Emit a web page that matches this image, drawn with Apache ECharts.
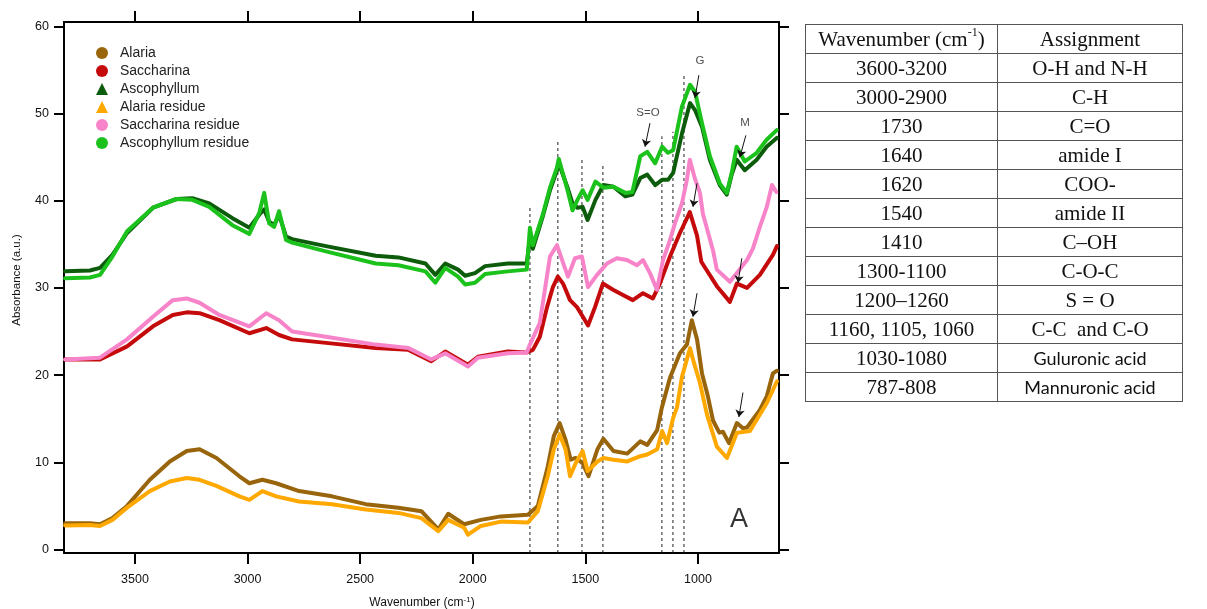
<!DOCTYPE html>
<html><head><meta charset="utf-8">
<script src="https://cdn.jsdelivr.net/npm/echarts@6/dist/echarts.min.js"></script>
<style>
html,body{margin:0;padding:0;background:#fff;}
#chart{position:absolute;left:0;top:0;width:1207px;height:609px;}
#tbl{position:absolute;left:805px;top:24px;border-collapse:collapse;table-layout:fixed;width:377px;
  font-family:'Liberation Serif','Times New Roman',serif;font-size:21px;color:#111;}
#tbl td{border:1px solid #555;height:28px;padding:0;text-align:center;vertical-align:middle;line-height:28px;white-space:nowrap;}
#tbl td.sans{font-family:Lato,'Open Sans',sans-serif;font-size:18px;}
#tbl sup{font-size:12px;line-height:0;position:relative;top:-2px;}
</style></head><body>
<div id="chart"></div>
<table id="tbl"><colgroup><col style="width:192px"><col style="width:185px"></colgroup><tbody id="tb"></tbody></table>
<script>
// ---------- data (wavenumber cm-1, absorbance a.u.) ----------
const xTicks = [3500, 3000, 2500, 2000, 1500, 1000];
const yTicks = [0, 10, 20, 30, 40, 50, 60];

const alaria = [[3810,3.0],[3700,3.0],[3655,2.9],[3600,3.6],[3535,5.0],[3434,8.0],[3345,10.1],[3270,11.3],[3213,11.5],[3138,10.5],[3036,8.4],[2992,7.6],[2934,8.0],[2873,7.6],[2771,6.7],[2625,6.1],[2475,5.2],[2330,4.8],[2228,4.4],[2153,2.3],[2109,4.1],[2038,2.9],[1964,3.4],[1875,3.8],[1755,4.0],[1711,5.0],[1667,9.5],[1640,13.0],[1614,14.5],[1588,12.6],[1565,10.3],[1543,10.5],[1512,9.9],[1486,8.4],[1446,11.5],[1420,12.7],[1375,11.3],[1314,11.0],[1256,12.4],[1225,12.0],[1181,13.7],[1160,16.3],[1124,19.7],[1080,22.5],[1049,23.5],[1027,26.3],[1004,24.1],[982,20.2],[956,17.6],[933,14.8],[905,13.4],[889,13.5],[862,12.2],[827,14.5],[800,13.9],[782,14.0],[725,16.0],[694,17.6],[667,20.2],[649,20.5]];
const saccharina = [[3810,21.8],[3655,21.8],[3535,23.3],[3420,25.6],[3332,26.9],[3270,27.2],[3213,27.1],[3125,26.3],[2992,24.8],[2917,25.4],[2860,24.6],[2802,24.1],[2652,23.7],[2431,23.1],[2285,22.9],[2184,21.6],[2122,22.7],[2021,21.2],[1977,22.1],[1844,22.7],[1760,22.6],[1733,22.9],[1702,24.4],[1670,27.8],[1644,30.1],[1622,31.3],[1599,30.5],[1568,28.6],[1537,27.8],[1511,26.7],[1488,25.7],[1457,27.8],[1422,30.5],[1377,29.8],[1333,29.2],[1289,28.6],[1244,29.4],[1200,28.8],[1169,30.5],[1124,33.6],[1080,36.3],[1036,38.7],[1004,36.0],[985,33.0],[916,30.2],[858,28.4],[827,30.5],[782,30.0],[725,31.5],[667,33.8],[649,34.8]];
const ascophyllum = [[3810,31.9],[3700,32.0],[3655,32.3],[3600,33.8],[3535,36.3],[3420,39.2],[3315,40.2],[3245,40.3],[3170,39.7],[3067,38.0],[2992,36.9],[2948,38.4],[2926,39.0],[2904,37.6],[2882,37.2],[2860,38.4],[2829,35.9],[2802,35.6],[2652,34.8],[2431,33.7],[2330,33.5],[2210,32.8],[2166,31.5],[2122,32.8],[2065,32.1],[2034,31.4],[1990,31.7],[1945,32.5],[1844,32.8],[1760,32.8],[1746,35.8],[1733,34.5],[1688,38.3],[1657,41.2],[1626,43.5],[1618,44.3],[1579,41.5],[1557,39.7],[1535,39.2],[1512,39.3],[1490,37.8],[1455,40.1],[1420,41.8],[1375,41.6],[1322,40.5],[1291,40.7],[1256,42.6],[1225,43.0],[1190,41.8],[1159,42.4],[1133,42.4],[1110,43.2],[1071,47.7],[1035,51.2],[1013,50.4],[982,48.5],[947,44.7],[903,41.8],[872,40.7],[850,43.0],[828,44.7],[792,43.5],[739,44.7],[695,46.2],[650,47.2]];
const alariaResidue = [[3810,2.75],[3700,2.8],[3655,2.7],[3600,3.4],[3535,4.8],[3434,6.7],[3345,7.8],[3270,8.2],[3213,8.0],[3138,7.3],[3036,6.1],[2992,5.7],[2934,6.7],[2873,6.1],[2771,5.5],[2625,5.2],[2475,4.6],[2330,4.2],[2228,3.6],[2153,2.1],[2109,3.4],[2038,2.5],[2021,1.7],[1964,2.7],[1875,3.2],[1755,3.1],[1711,4.4],[1667,8.4],[1640,11.5],[1614,13.2],[1588,11.5],[1568,8.4],[1543,9.9],[1512,11.3],[1490,9.0],[1446,10.1],[1420,10.5],[1375,10.3],[1314,10.1],[1256,10.7],[1225,10.9],[1181,11.5],[1159,13.6],[1137,12.2],[1110,15.1],[1093,16.3],[1071,19.8],[1035,23.1],[1022,21.8],[991,19.1],[960,15.5],[916,11.8],[871,10.5],[827,13.4],[769,13.6],[694,16.8],[649,19.3]];
const saccharinaResidue = [[3810,21.8],[3655,22.0],[3535,24.1],[3420,26.7],[3332,28.6],[3270,28.8],[3213,28.3],[3125,26.9],[2992,25.6],[2917,27.1],[2860,26.3],[2802,25.0],[2652,24.4],[2431,23.5],[2285,23.1],[2184,21.8],[2122,22.5],[2021,21.0],[1977,22.0],[1844,22.5],[1760,22.6],[1746,23.5],[1702,26.0],[1657,33.6],[1626,34.9],[1599,32.9],[1577,31.3],[1546,33.4],[1515,33.6],[1502,31.9],[1488,30.1],[1448,31.5],[1404,32.8],[1360,33.4],[1315,33.2],[1271,32.6],[1244,33.2],[1213,31.7],[1182,29.8],[1155,33.2],[1124,35.5],[1102,37.4],[1071,39.7],[1049,42.4],[1036,44.7],[1013,42.5],[991,40.9],[978,38.5],[933,34.3],[916,32.1],[858,30.7],[827,31.7],[782,33.2],[756,34.5],[725,37.0],[694,39.3],[671,41.8],[652,41.0]];
const ascophyllumResidue = [[3810,31.1],[3700,31.2],[3655,31.5],[3600,33.6],[3535,36.5],[3420,39.2],[3315,40.2],[3245,40.1],[3170,39.3],[3067,37.2],[2992,36.2],[2948,38.6],[2926,40.9],[2904,37.4],[2882,37.0],[2860,38.8],[2829,35.5],[2802,35.2],[2652,34.2],[2431,32.8],[2330,32.6],[2210,31.9],[2166,30.6],[2122,32.3],[2065,31.3],[2034,30.4],[1990,30.6],[1945,31.6],[1844,31.9],[1760,32.1],[1746,36.9],[1733,34.9],[1688,38.5],[1657,41.5],[1626,43.8],[1618,44.8],[1579,41.2],[1557,38.9],[1535,40.1],[1512,41.2],[1490,40.1],[1455,42.2],[1420,41.5],[1375,41.6],[1322,40.9],[1291,41.0],[1256,45.1],[1225,45.6],[1190,44.3],[1159,46.2],[1133,45.5],[1110,45.8],[1071,50.8],[1035,53.3],[1013,52.5],[982,48.9],[947,45.1],[903,42.0],[872,40.9],[850,43.2],[828,46.2],[792,44.5],[739,45.5],[695,47.0],[650,48.1]];

// reference band positions (dashed guides) and their top ends
const guideWn  = [1746, 1622, 1515, 1422, 1160, 1111, 1062];
const guideTop = [39.3, 47.0, 44.8, 44.1, 47.4, 47.9, 54.4];

// annotation arrows [fromWn, fromAbs, toWn, toAbs]
const arrows = [[1213,48.9,1235,46.2],[996,54.4,1013,51.8],[787,47.5,814,45.0],[1004,42.0,1022,39.3],[805,33.4,822,30.6],[1004,29.4,1022,26.7],[800,18.0,818,15.2]];
const annoText = ['S=O', 'G', 'M'];
const annoPos  = [[1222,50.1],[991,56.1],[791,48.9]];

// table
const tblWavenumber = ['3600-3200','3000-2900','1730','1640','1620','1540','1410','1300-1100','1200\u20131260','1160, 1105, 1060','1030-1080','787-808'];
const tblAssignment = ['O-H and N-H','C-H','C=O','amide I','COO-','amide II','C\u2013OH','C-O-C','S = O','C-C&nbsp;&nbsp;and C-O','Guluronic acid','Mannuronic acid'];
const sansAssign = ['Guluronic acid','Mannuronic acid'];

// ---------- table ----------
(function(){
  let h = '<tr><td>Wavenumber (cm<sup>-1</sup>)</td><td>Assignment</td></tr>';
  for (let i = 0; i < tblWavenumber.length; i++) {
    const cls = sansAssign.indexOf(tblAssignment[i]) >= 0 ? ' class="sans"' : '';
    h += '<tr><td>' + tblWavenumber[i] + '</td><td' + cls + '>' + tblAssignment[i] + '</td></tr>';
  }
  document.getElementById('tb').innerHTML = h;
})();

// ---------- chart ----------
const FONT = "'Liberation Sans', Arial, sans-serif";
const chart = echarts.init(document.getElementById('chart'), null, {renderer:'canvas'});

const main = [
  {name:'Alaria', data:alaria, color:'#98650c', icon:'circle'},
  {name:'Saccharina', data:saccharina, color:'#c40a0a', icon:'circle'},
  {name:'Ascophyllum', data:ascophyllum, color:'#0c5c0c', icon:'triangle'},
  {name:'Alaria residue', data:alariaResidue, color:'#ffa800', icon:'triangle'},
  {name:'Saccharina residue', data:saccharinaResidue, color:'#f784c8', icon:'circle'},
  {name:'Ascophyllum residue', data:ascophyllumResidue, color:'#1cc21c', icon:'circle'}
];

const series = [];
guideWn.forEach((w, i) => {
  series.push({type:'line', data:[[w,-0.4],[w,guideTop[i]]], showSymbol:false, silent:true, z:1,
    lineStyle:{color:'#222', width:1, type:[3,3]}, tooltip:{show:false}});
});
main.forEach(s => {
  series.push({name:s.name, type:'line', data:s.data, showSymbol:false, color:s.color, z:3,
    lineStyle:{width:4, color:s.color, cap:'round', join:'round'}});
});
series.push({type:'scatter', symbolSize:0, silent:true, z:5,
  data: annoPos.map((p, i) => ({value:p, name:annoText[i]})),
  label:{show:true, position:'inside', formatter:'{b}', fontSize:11.5, color:'#222', fontFamily:FONT},
  markLine:{silent:true, symbol:['none','arrow'], symbolSize:7, animation:false,
    lineStyle:{color:'#111', width:1, type:'solid'}, label:{show:false},
    data: arrows.map(a => [{coord:[a[0],a[1]]},{coord:[a[2],a[3]]}])}
});
series.push({type:'scatter', symbolSize:0, silent:true, z:5, data:[{value:[818,3.4], name:'A'}],
  label:{show:true, position:'inside', formatter:'{b}', fontSize:27, color:'#000', fontFamily:FONT}});

const axLine = {show:true, onZero:false, lineStyle:{color:'#000', width:2}};
const plain = v => String(v);
const option = {
  animation:false,
  backgroundColor:'#fff',
  grid:{left:64, right:428, top:22, bottom:56, containLabel:false, outerBoundsMode:'none'},
  legend:{orient:'vertical', left:91, top:41, itemWidth:12, itemHeight:12, itemGap:4, symbolKeepAspect:true,
    data: main.map(s => ({name:s.name, icon:s.icon})),
    textStyle:{fontFamily:FONT, fontSize:14, color:'#222', padding:[0,0,0,7]}},
  xAxis:[
    {type:'value', position:'bottom', min:640, max:3815, inverse:true, splitLine:{show:false},
     axisLine:axLine, axisTick:{show:true, length:11, lineStyle:{width:2,color:'#000'}, customValues:xTicks},
     axisLabel:{customValues:xTicks, formatter:plain, margin:20, fontSize:12.5, color:'#111', fontFamily:FONT}},
    {type:'value', position:'top', min:640, max:3815, inverse:true, splitLine:{show:false},
     axisLine:axLine, axisTick:{show:true, length:11, lineStyle:{width:2,color:'#000'}, customValues:xTicks},
     axisLabel:{show:false}}
  ],
  yAxis:[
    {type:'value', position:'left', min:-0.4, max:60.5, splitLine:{show:false},
     axisLine:axLine, axisTick:{show:true, length:10, lineStyle:{width:2,color:'#000'}, customValues:yTicks},
     axisLabel:{customValues:yTicks, formatter:plain, margin:15, fontSize:12.5, color:'#111', fontFamily:FONT}},
    {type:'value', position:'right', min:-0.4, max:60.5, splitLine:{show:false},
     axisLine:axLine, axisTick:{show:true, length:10, lineStyle:{width:2,color:'#000'}, customValues:yTicks},
     axisLabel:{show:false}}
  ],
  graphic:[
    {type:'text', x:422, y:603, z:10, style:{text:'{a|Wavenumber (cm}{s|-1}{a|)}', align:'center', verticalAlign:'middle',
      rich:{a:{fontSize:12, fontFamily:FONT, fill:'#111', lineHeight:14}, s:{fontSize:8, fontFamily:FONT, fill:'#111', verticalAlign:'top', lineHeight:14}}}},
    {type:'text', x:17, y:280, rotation:Math.PI/2, z:10, style:{text:'Absorbance (a.u.)', align:'center', verticalAlign:'middle',
      font:'11.5px ' + FONT, fill:'#111'}}
  ],
  series: series
};
chart.setOption(option);
</script>
</body></html>
